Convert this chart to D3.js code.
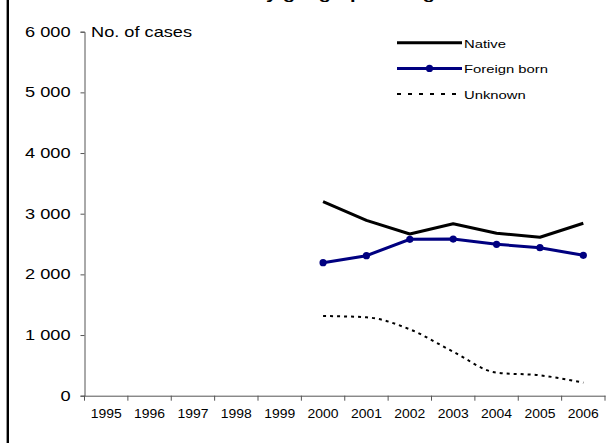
<!DOCTYPE html>
<html>
<head>
<meta charset="utf-8">
<title>Cases by geographic origin</title>
<script src="https://d3js.org/d3.v7.min.js"></script>
<style>
  body { margin: 0; background: #fff; }
  text { font-family: "Liberation Sans", Arial, sans-serif; fill: #000; }
</style>
</head>
<body>
<div id="chart"></div>
<script>

// data
var years = ["1995","1996","1997","1998","1999","2000","2001","2002","2003","2004","2005","2006"];
var dataYears = ["2000","2001","2002","2003","2004","2005","2006"];
var native = [3200, 2890, 2665, 2835, 2677, 2611, 2842];
var foreignBorn = [2192, 2308, 2578, 2582, 2496, 2440, 2314];
var unknown = [1314, 1292, 1094, 725, 379, 336, 215];
var yTicks = [0, 1000, 2000, 3000, 4000, 5000, 6000];

var W = 609, H = 443;
var margin = {top: 31.7, left: 84.5, right: 4, bottom: 47.3};
var width = W - margin.left - margin.right;
var height = H - margin.top - margin.bottom;

var svg = d3.select("#chart").append("svg")
  .attr("width", W).attr("height", H);

// text helper, the original text is stretched sideways
function label(x, y, str, size, anchor, weight, sx) {
  return svg.append("text")
    .attr("transform", "translate(" + x + "," + y + ") scale(" + (sx || 1.3) + ",1)")
    .attr("font-size", size + "px")
    .attr("font-weight", weight || "normal")
    .style("text-anchor", anchor || "start")
    .text(str);
}

// left frame border
svg.append("line")
  .attr("x1", 7.8).attr("x2", 7.8).attr("y1", 0).attr("y2", H)
  .attr("stroke", "#000").attr("stroke-width", 2.4);

// title, mostly cut off at top
label(453, -1, "Tuberculosis cases by geographic origin", 15.5, "end", "bold");

var g = svg.append("g")
  .attr("transform", "translate(" + margin.left + "," + margin.top + ")");

var x = d3.scaleBand().domain(years).range([0, width]);
var y = d3.scaleLinear().domain([0, 6000]).range([height, 0]);

// y axis
var yAxis = g.append("g").call(d3.axisLeft(y).tickValues(yTicks).tickSize(4).tickFormat(""));
yAxis.selectAll("line, path").attr("stroke", "#555");
yTicks.forEach(function(t) {
  label(margin.left - 14, margin.top + y(t) + 5, d3.format(",")(t).replace(",", " "), 14, "end");
});

// x axis
var xAxis = g.append("g")
  .attr("transform", "translate(0," + height + ")")
  .call(d3.axisBottom(x).tickSize(0).tickFormat(""));
xAxis.select("path").attr("stroke", "#555");
g.append("g").selectAll("line").data(years.concat(["end"])).enter().append("line")
  .attr("x1", function(d, i) { return i * x.bandwidth(); })
  .attr("x2", function(d, i) { return i * x.bandwidth(); })
  .attr("y1", height).attr("y2", height + 5)
  .attr("stroke", "#555");
years.forEach(function(yr) {
  label(margin.left + x(yr) + x.bandwidth() / 2, margin.top + height + 22, yr, 12, "middle", "normal", 1.16);
});

// axis title
label(91, 37, "No. of cases", 14, "start");

var cx = function(d, i) { return x(dataYears[i]) + x.bandwidth() / 2; };

var smooth = d3.line().x(cx).y(function(d) { return y(d); }).curve(d3.curveMonotoneX);
var straight = d3.line().x(cx).y(function(d) { return y(d); });

g.append("path").datum(unknown)
  .attr("d", smooth).attr("fill", "none")
  .attr("stroke", "#000").attr("stroke-width", 2).attr("stroke-dasharray", "3,4");

g.append("path").datum(native)
  .attr("d", straight).attr("fill", "none")
  .attr("stroke", "#000").attr("stroke-width", 3)
  .attr("stroke-linejoin", "round");

g.append("path").datum(foreignBorn)
  .attr("d", straight).attr("fill", "none")
  .attr("stroke", "#000080").attr("stroke-width", 3);

g.selectAll("circle.fb").data(foreignBorn).enter().append("circle")
  .attr("class", "fb")
  .attr("cx", cx).attr("cy", function(d) { return y(d); })
  .attr("r", 3.6).attr("fill", "#000080");

// legend
var legend = [
  {name: "Native", color: "#000", dash: null, width: 3, marker: false},
  {name: "Foreign born", color: "#000080", dash: null, width: 3, marker: true},
  {name: "Unknown", color: "#000", dash: "4,7", width: 2, marker: false}
];
legend.forEach(function(l, i) {
  var ly = 42.7 + i * 25.7;
  svg.append("line")
    .attr("x1", 397).attr("x2", 462).attr("y1", ly).attr("y2", ly)
    .attr("stroke", l.color).attr("stroke-width", l.width)
    .attr("stroke-dasharray", l.dash);
  if (l.marker) {
    svg.append("circle").attr("cx", 429.5).attr("cy", ly).attr("r", 3.6).attr("fill", l.color);
  }
  label(464, ly + 5, l.name, 11.4, "start");
});

</script>
</body>
</html>
